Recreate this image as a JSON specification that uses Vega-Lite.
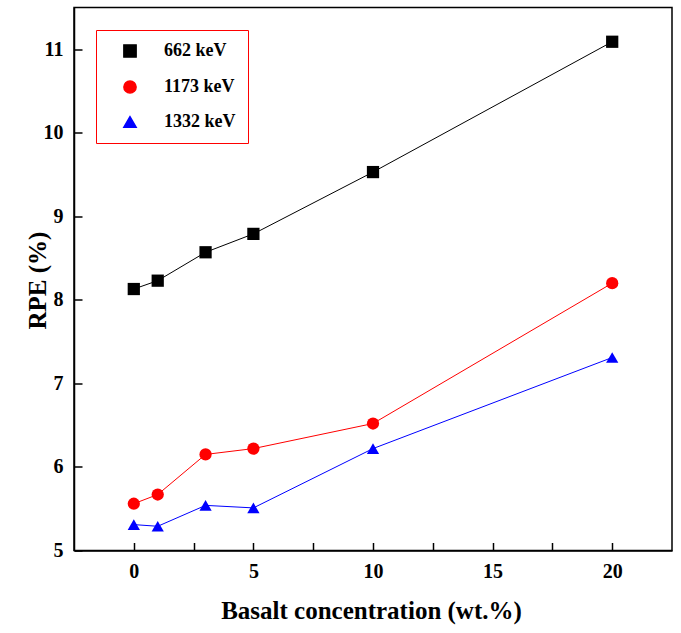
{
  "$schema": "https://vega.github.io/schema/vega-lite/v6.json",
  "width": 598,
  "height": 543,
  "autosize": "none",
  "padding": {"left": 74, "top": 7.5, "right": 9, "bottom": 82.5},
  "background": "white",
  "data": {
    "values": [
      {"x": 0, "y": 8.13, "series": "662 keV"},
      {"x": 1, "y": 8.23, "series": "662 keV"},
      {"x": 3, "y": 8.57, "series": "662 keV"},
      {"x": 5, "y": 8.79, "series": "662 keV"},
      {"x": 10, "y": 9.53, "series": "662 keV"},
      {"x": 20, "y": 11.09, "series": "662 keV"},
      {"x": 0, "y": 5.56, "series": "1173 keV"},
      {"x": 1, "y": 5.67, "series": "1173 keV"},
      {"x": 3, "y": 6.15, "series": "1173 keV"},
      {"x": 5, "y": 6.22, "series": "1173 keV"},
      {"x": 10, "y": 6.52, "series": "1173 keV"},
      {"x": 20, "y": 8.2, "series": "1173 keV"},
      {"x": 0, "y": 5.31, "series": "1332 keV"},
      {"x": 1, "y": 5.29, "series": "1332 keV"},
      {"x": 3, "y": 5.54, "series": "1332 keV"},
      {"x": 5, "y": 5.51, "series": "1332 keV"},
      {"x": 10, "y": 6.22, "series": "1332 keV"},
      {"x": 20, "y": 7.31, "series": "1332 keV"}
    ]
  },
  "layer": [
    {
      "mark": {"type": "line", "strokeWidth": 1},
      "encoding": {
        "x": {
          "field": "x", "type": "quantitative",
          "scale": {"domain": [-2.5, 22.5], "nice": false, "zero": false},
          "axis": {
            "title": "Basalt concentration (wt.%)",
            "values": [0, 2.5, 5, 7.5, 10, 12.5, 15, 17.5, 20],
            "format": "d",
            "labelExpr": "datum.value % 5 === 0 ? datum.label : ''",
            "tickSize": -8,
            "labelPadding": 19,
            "titleX": 297,
            "titleY": 60,
            "titleAlign": "center",
            "titleBaseline": "middle"
          }
        },
        "y": {
          "field": "y", "type": "quantitative",
          "scale": {"domain": [5, 11.5], "nice": false, "zero": false},
          "axis": {
            "title": "RPE (%)",
            "values": [5, 5.5, 6, 6.5, 7, 7.5, 8, 8.5, 9, 9.5, 10, 10.5, 11],
            "format": "d",
            "labelExpr": "datum.value % 1 === 0 ? datum.label : ''",
            "tickSize": -8,
            "labelPadding": 19,
            "titleX": -37,
            "titleY": 272.5,
            "titleAngle": -90,
            "titleAlign": "center",
            "titleBaseline": "middle"
          }
        },
        "color": {
          "field": "series", "type": "nominal",
          "scale": {"domain": ["662 keV", "1173 keV", "1332 keV"], "range": ["#000000", "#ff0000", "#0000ff"]},
          "legend": {"title": null}
        }
      }
    },
    {
      "mark": {"type": "point", "filled": true, "opacity": 1, "size": 150},
      "encoding": {
        "x": {"field": "x", "type": "quantitative"},
        "y": {"field": "y", "type": "quantitative"},
        "color": {"field": "series", "type": "nominal", "legend": {"title": null}},
        "shape": {
          "field": "series", "type": "nominal",
          "scale": {"domain": ["662 keV", "1173 keV", "1332 keV"], "range": ["square", "circle", "triangle-up"]},
          "legend": {"title": null}
        }
      }
    }
  ],
  "config": {
    "font": "Liberation Serif",
    "view": {"stroke": "black", "strokeWidth": 1.5},
    "legend": {
      "orient": "none",
      "legendX": 22,
      "legendY": 22.5,
      "fillColor": "white",
      "strokeColor": "#ff0000",
      "padding": 12,
      "symbolSize": 150,
      "symbolOffset": 13,
      "labelOffset": 25,
      "rowPadding": 16,
      "labelFont": "Liberation Serif",
      "labelFontWeight": "bold",
      "labelFontSize": 18,
      "labelColor": "black"
    },
    "axis": {
      "grid": false,
      "domainColor": "black",
      "domainWidth": 1.5,
      "tickColor": "black",
      "tickWidth": 1.5,
      "labelColor": "black",
      "labelFont": "Liberation Serif",
      "labelFontWeight": "bold",
      "labelFontSize": 20,
      "labelFlush": false,
      "labelOverlap": false,
      "titleColor": "black",
      "titleFont": "Liberation Serif",
      "titleFontWeight": "bold",
      "titleFontSize": 25
    }
  }
}
